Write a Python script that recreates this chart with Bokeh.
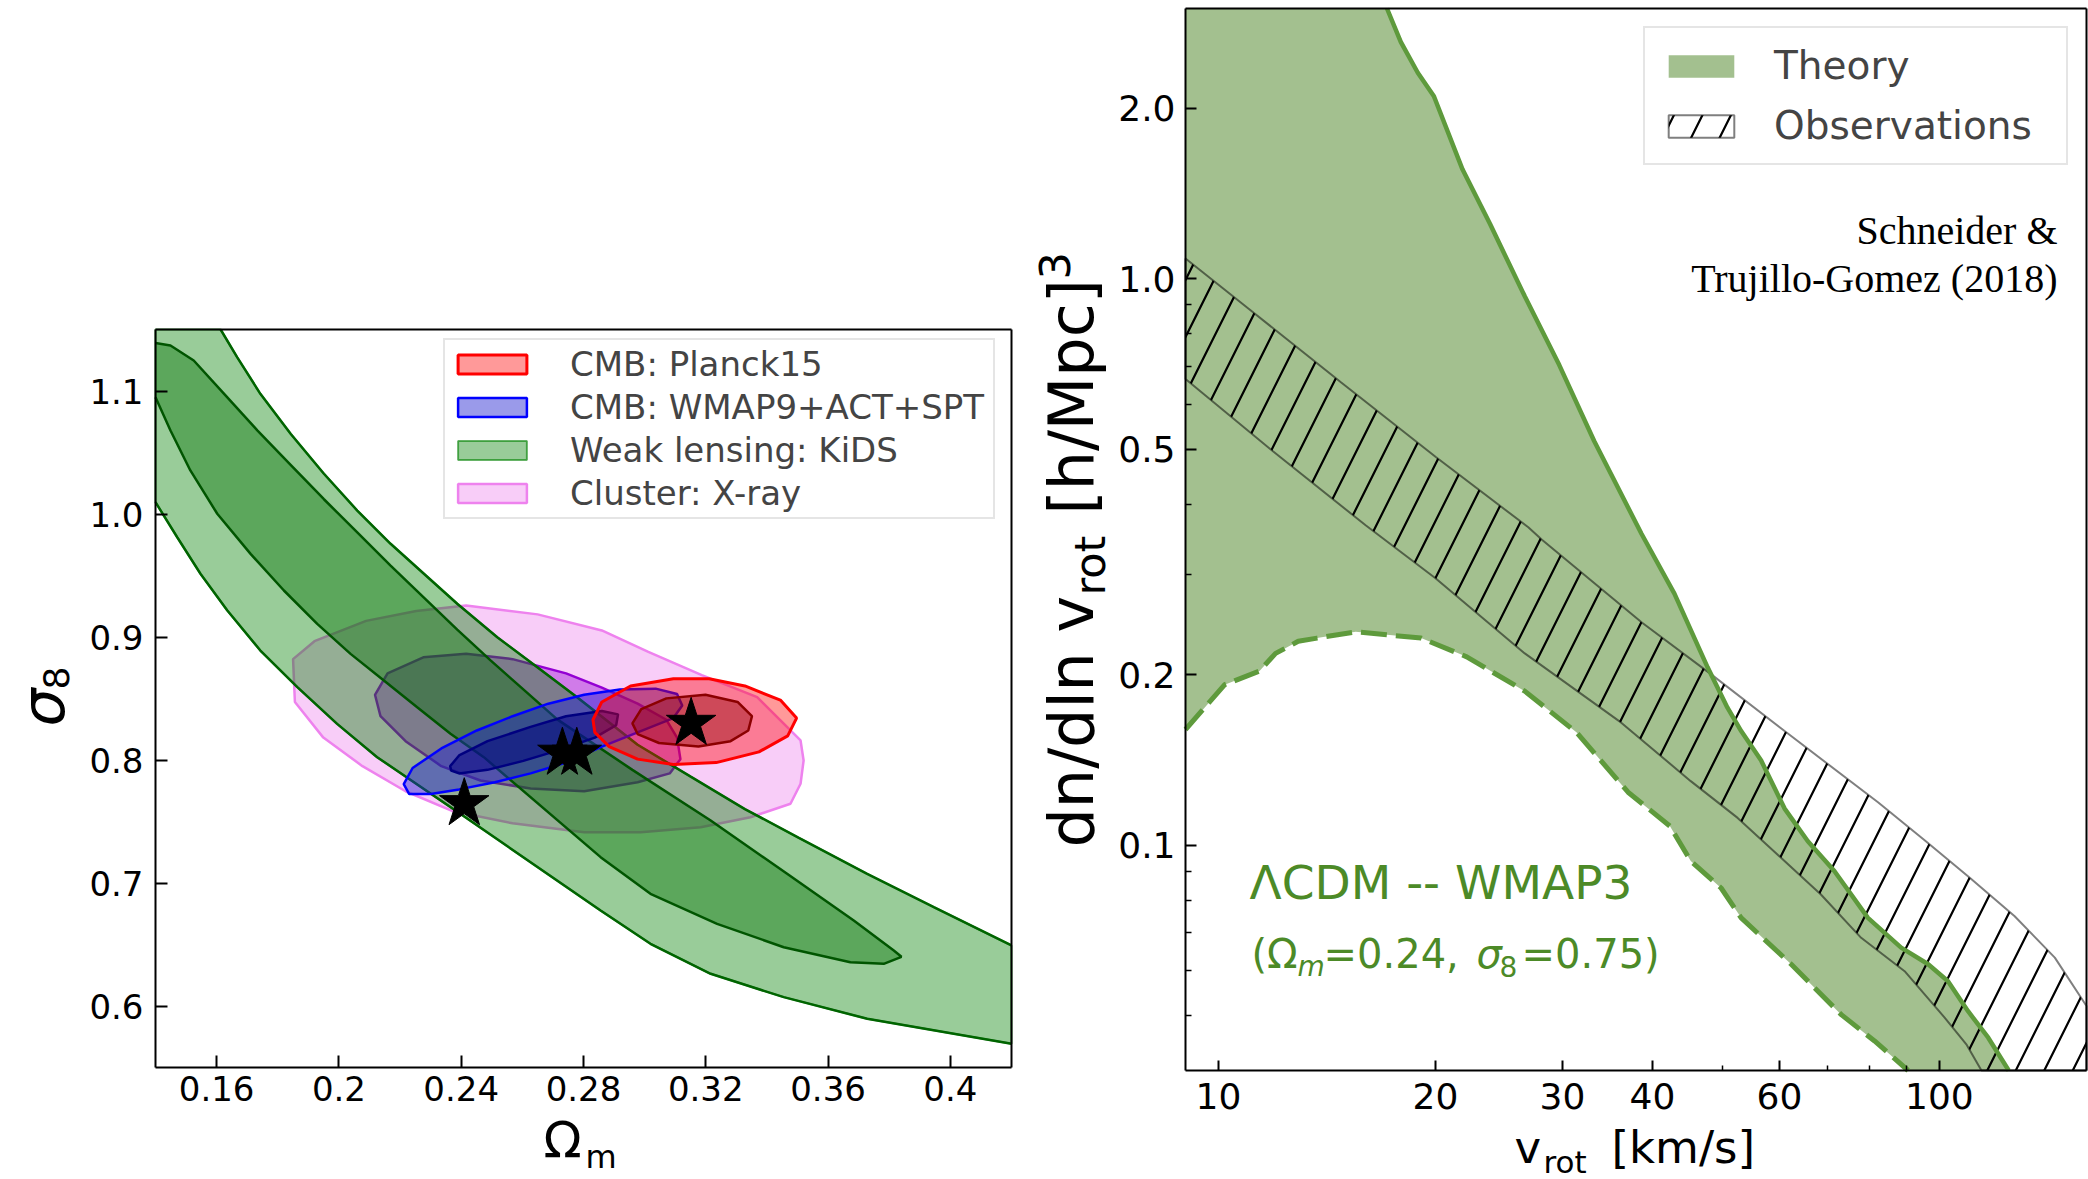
import math
from bokeh.plotting import figure
from bokeh.models import Range1d, FixedTicker, Label, Legend, LegendItem, LinearAxis, LogAxis
from bokeh.layouts import row
from bokeh.embed import file_html
from bokeh.resources import INLINE

# ---------------- Left panel data (Omega_m, sigma_8) ----------------
om_lim = (0.14, 0.42)
s8_lim = (0.55, 1.15)
om_ticks = [0.16, 0.2, 0.24, 0.28, 0.32, 0.36, 0.4]
om_tick_labels = ["0.16", "0.2", "0.24", "0.28", "0.32", "0.36", "0.4"]
s8_ticks = [0.6, 0.7, 0.8, 0.9, 1.0, 1.1]
s8_tick_labels = ["0.6", "0.7", "0.8", "0.9", "1.0", "1.1"]

planck_outer_om = [0.2831, 0.2860, 0.2954, 0.3094, 0.3211, 0.3328, 0.3444, 0.3497, 0.3468, 0.3374, 0.3234, 0.3094, 0.2977, 0.2884, 0.2837]
planck_outer_s8 = [0.8327, 0.8472, 0.8602, 0.8661, 0.8661, 0.8602, 0.8487, 0.8341, 0.8196, 0.8066, 0.7979, 0.7964, 0.8007, 0.8109, 0.8225]
planck_inner_om = [0.2960, 0.2989, 0.3071, 0.3199, 0.3304, 0.3351, 0.3339, 0.3281, 0.3176, 0.3047, 0.2977]
planck_inner_s8 = [0.8298, 0.8414, 0.8501, 0.8530, 0.8472, 0.8356, 0.8240, 0.8153, 0.8109, 0.8138, 0.8211]

wmap_outer_om = [0.2212, 0.2241, 0.2335, 0.2451, 0.2568, 0.2685, 0.2802, 0.2919, 0.3036, 0.3106, 0.3123, 0.3094, 0.2977, 0.2860, 0.2743, 0.2627, 0.2510, 0.2393, 0.2300, 0.2230]
wmap_outer_s8 = [0.7804, 0.7935, 0.8094, 0.8240, 0.8356, 0.8458, 0.8530, 0.8574, 0.8580, 0.8536, 0.8443, 0.8341, 0.8225, 0.8109, 0.7979, 0.7891, 0.7819, 0.7761, 0.7723, 0.7723]
wmap_inner_om = [0.2364, 0.2393, 0.2486, 0.2627, 0.2743, 0.2860, 0.2913, 0.2907, 0.2837, 0.2720, 0.2603, 0.2486, 0.2393, 0.2367]
wmap_inner_s8 = [0.7950, 0.8037, 0.8153, 0.8269, 0.8356, 0.8399, 0.8371, 0.8284, 0.8182, 0.8080, 0.7993, 0.7920, 0.7891, 0.7915]

xray_outer_om = [0.1850, 0.1920, 0.2089, 0.2253, 0.2416, 0.2650, 0.2860, 0.3012, 0.3187, 0.3368, 0.3510, 0.3520, 0.3510, 0.3477, 0.3346, 0.3183, 0.2987, 0.2802, 0.2568, 0.2370, 0.2218, 0.2077, 0.1949, 0.1856]
xray_outer_s8 = [0.8820, 0.8966, 0.9131, 0.9212, 0.9256, 0.9184, 0.9053, 0.8879, 0.8690, 0.8511, 0.8159, 0.7996, 0.7807, 0.7644, 0.7535, 0.7454, 0.7413, 0.7412, 0.7485, 0.7586, 0.7746, 0.7950, 0.8182, 0.8472]
xray_inner_om = [0.2118, 0.2159, 0.2276, 0.2416, 0.2568, 0.2743, 0.2860, 0.2977, 0.3071, 0.3106, 0.3117, 0.3082, 0.2977, 0.2802, 0.2627, 0.2463, 0.2335, 0.2218, 0.2136]
xray_inner_s8 = [0.8530, 0.8704, 0.8835, 0.8864, 0.8820, 0.8704, 0.8589, 0.8458, 0.8327, 0.8182, 0.8007, 0.7891, 0.7819, 0.7746, 0.7769, 0.7833, 0.7950, 0.8153, 0.8356]

# KiDS weak lensing banana: outer (2 sigma) upper / lower edges, inner (1 sigma) upper / lower edges
kids_outer_hi_om = [0.1613, 0.1667, 0.1743, 0.1842, 0.1951, 0.2060, 0.2169, 0.2278, 0.2387, 0.2518, 0.2649, 0.2779, 0.2977, 0.3152, 0.3328, 0.3503, 0.3728, 0.3946, 0.4200]
kids_outer_hi_s8 = [1.1500, 1.1275, 1.0977, 1.0652, 1.0327, 1.0028, 0.9758, 0.9514, 0.9270, 0.8998, 0.8755, 0.8511, 0.8124, 0.7863, 0.7601, 0.7369, 0.7075, 0.6803, 0.6492]
kids_outer_lo_om = [0.1400, 0.1471, 0.1547, 0.1635, 0.1743, 0.1864, 0.1994, 0.2125, 0.2410, 0.2856, 0.3019, 0.3216, 0.3455, 0.3728, 0.4200]
kids_outer_lo_s8 = [1.0096, 0.9811, 0.9514, 0.9215, 0.8890, 0.8592, 0.8294, 0.8023, 0.7540, 0.6776, 0.6506, 0.6262, 0.6072, 0.5896, 0.5693]
kids_inner_hi_om = [0.1400, 0.1449, 0.1525, 0.1623, 0.1733, 0.1842, 0.1951, 0.2060, 0.2169, 0.2278, 0.2387, 0.2496, 0.2605, 0.2714, 0.2960, 0.3216, 0.3466, 0.3684, 0.3815, 0.3840]
kids_inner_hi_s8 = [1.1390, 1.1370, 1.1248, 1.0981, 1.0680, 1.0400, 1.0120, 0.9850, 0.9580, 0.9320, 0.9060, 0.8810, 0.8570, 0.8330, 0.7920, 0.7508, 0.7075, 0.6695, 0.6451, 0.6400]
kids_inner_lo_om = [0.1400, 0.1449, 0.1514, 0.1602, 0.1711, 0.1820, 0.1929, 0.2038, 0.2147, 0.2256, 0.2365, 0.2474, 0.2856, 0.3019, 0.3237, 0.3455, 0.3673, 0.3782]
kids_inner_lo_s8 = [1.0950, 1.0679, 1.0354, 1.0002, 0.9676, 0.9378, 0.9107, 0.8863, 0.8646, 0.8429, 0.8213, 0.8023, 0.7210, 0.6912, 0.6668, 0.6478, 0.6356, 0.6343]

star_om = [0.3152, 0.2731, 0.2778, 0.2410]
star_s8 = [0.8298, 0.8055, 0.8055, 0.7645]

legend_left = ["CMB: Planck15", "CMB: WMAP9+ACT+SPT", "Weak lensing: KiDS", "Cluster: X-ray"]

# ---------------- Right panel data (v_rot, dn/dln v_rot) ----------------
v_lim = (9.0, 160.0)
n_lim = (0.04, 3.0)
v_ticks = [10, 20, 30, 40, 60, 100]
v_tick_labels = ["10", "20", "30", "40", "60", "100"]
v_minor = [50, 70, 80, 90]
n_ticks = [0.1, 0.2, 0.5, 1.0, 2.0]
n_tick_labels = ["0.1", "0.2", "0.5", "1.0", "2.0"]
n_minor = [0.05, 0.06, 0.07, 0.08, 0.09, 0.3, 0.4, 0.6, 0.7, 0.8, 0.9]

theory_hi_v = [17.13, 17.9, 18.9, 19.9, 21.8, 23.8, 26.6, 29.7, 33.2, 38.6, 42.9, 47.7, 50.8, 53.1, 56.6, 61.0, 65.7, 71.5, 79.6, 88.5, 96.5, 102.8, 109.6, 116.9, 124.8]
theory_hi_n = [3.0, 2.62, 2.31, 2.10, 1.56, 1.25, 0.931, 0.704, 0.517, 0.355, 0.278, 0.206, 0.175, 0.159, 0.141, 0.116, 0.1016, 0.090, 0.0744, 0.0659, 0.0616, 0.0575, 0.0509, 0.0457, 0.040]
theory_lo_v = [9.0, 10.2, 11.4, 12.0, 12.9, 13.7, 15.5, 19.1, 22.1, 26.6, 31.4, 37.0, 42.3, 45.2, 49.8, 53.1, 62.3, 73.1, 81.3, 90.5]
theory_lo_n = [0.160, 0.192, 0.203, 0.218, 0.229, 0.232, 0.238, 0.232, 0.215, 0.187, 0.158, 0.124, 0.108, 0.0937, 0.084, 0.0744, 0.0616, 0.0502, 0.0451, 0.040]
obs_hi_v = [9.0, 11.0, 14.8, 20.0, 26.9, 28.1, 38.7, 48.3, 61.0, 82.2, 95.4, 110.2, 127.2, 144.6, 160.0]
obs_hi_n = [1.086, 0.886, 0.656, 0.485, 0.364, 0.346, 0.247, 0.200, 0.159, 0.119, 0.102, 0.0876, 0.0749, 0.0633, 0.052]
obs_lo_v = [9.0, 11.9, 16.0, 20.0, 26.6, 36.2, 45.2, 52.5, 60.3, 68.5, 77.9, 89.5, 101.7, 109.0, 114.4]
obs_lo_n = [0.665, 0.496, 0.367, 0.296, 0.218, 0.1645, 0.1297, 0.1117, 0.095, 0.0818, 0.0686, 0.0599, 0.0496, 0.0445, 0.040]

legend_right = ["Theory", "Observations"]

FONT = "DejaVu Sans"
SERIF = "Liberation Serif"
H = 1179                      # canvas height
W1, W2 = 1025, 1063           # canvas widths of the two panels
# pixel box of each panel's axes inside its own canvas (left, right, top, bottom)
BOX1 = (155, 1011, 329, 1067)
BOX2 = (160, 1061, 8, 1070)

# Bokeh labels anchor "alphabetic" text at the middle of the font box; shift back to the real baseline
BASE_SHIFT = {FONT: 0.346, SERIF: 0.3375}


def lab(p, x, y, text, size, color="black", font=FONT, style="normal", rotated=False, align="left"):
    off = BASE_SHIFT[font] * size
    if rotated:
        x, angle = x - off, math.pi / 2
    else:
        y, angle = y + off, 0.0
    p.add_layout(Label(x=x, y=y, x_units="screen", y_units="screen", text=text,
                       text_font_size=f"{size}px", text_color=color, text_font=font,
                       text_font_style=style, angle=angle, text_align=align,
                       text_baseline="alphabetic"))


def make_axis(cls, fixed, bounds, ticks, minor, overrides, label_size, standoff, tick_in, minor_in):
    ax = cls(fixed_location=fixed, bounds=bounds, ticker=FixedTicker(ticks=ticks, minor_ticks=minor))
    ax.axis_line_color = "black"
    ax.axis_line_width = 2
    ax.major_tick_in = tick_in
    ax.major_tick_out = 0
    ax.minor_tick_in = minor_in
    ax.minor_tick_out = 0
    ax.major_tick_line_width = 2
    ax.minor_tick_line_width = 1.5
    ax.major_tick_line_color = "black"
    ax.minor_tick_line_color = "black"
    ax.major_label_text_font = FONT
    ax.major_label_text_font_size = f"{label_size}px"
    ax.major_label_text_color = "black"
    ax.major_label_standoff = standoff
    if overrides:
        ax.major_label_overrides = overrides
    return ax


def base_fig(w, x_range, y_range, x_type, y_type):
    p = figure(width=w, height=H, x_range=x_range, y_range=y_range,
               x_axis_type=x_type, y_axis_type=y_type, x_axis_location=None, y_axis_location=None,
               output_backend="svg", toolbar_location=None, title=None,
               min_border=0, min_border_left=0, min_border_right=0, min_border_top=0, min_border_bottom=0)
    p.grid.visible = False
    p.outline_line_color = None
    p.background_fill_color = "white"
    p.border_fill_color = "white"
    return p


# ======================= LEFT FIGURE =======================
kx1 = (om_lim[1] - om_lim[0]) / (BOX1[1] - BOX1[0])
ky1 = (s8_lim[1] - s8_lim[0]) / (BOX1[3] - BOX1[2])
p1 = base_fig(W1,
              Range1d(om_lim[0] - BOX1[0] * kx1, om_lim[1] + (W1 - BOX1[1]) * kx1),
              Range1d(s8_lim[0] - (H - BOX1[3]) * ky1, s8_lim[1] + BOX1[2] * ky1),
              "linear", "linear")

p1.add_layout(make_axis(LinearAxis, s8_lim[0], om_lim, om_ticks, [], dict(zip(om_ticks, om_tick_labels)), 34, 8, 12, 0), "below")
p1.add_layout(make_axis(LinearAxis, om_lim[0], s8_lim, s8_ticks, [], dict(zip(s8_ticks, s8_tick_labels)), 34, 12, 12, 0), "left")
p1.add_layout(make_axis(LinearAxis, s8_lim[1], om_lim, [], [], None, 1, 0, 0, 0), "above")
p1.add_layout(make_axis(LinearAxis, om_lim[1], s8_lim, [], [], None, 1, 0, 0, 0), "right")

# cluster X-ray
r_xray = p1.patch(xray_outer_om, xray_outer_s8, fill_color="#ee82ee", fill_alpha=0.4, line_color="#ee82ee", line_width=2.5)
p1.patch(xray_inner_om, xray_inner_s8, fill_color="#9400d3", fill_alpha=0.4, line_color="#9400d3", line_width=2.5)

# KiDS banana
outer_x = kids_outer_hi_om + kids_outer_lo_om[::-1] + [om_lim[0]]
outer_y = kids_outer_hi_s8 + kids_outer_lo_s8[::-1] + [s8_lim[1]]
r_kids = p1.patch(outer_x, outer_y, fill_color="#008000", fill_alpha=0.4,
                  line_color="#008000", line_alpha=0.6, line_width=2)
inner_x = kids_inner_hi_om + kids_inner_lo_om[::-1]
inner_y = kids_inner_hi_s8 + kids_inner_lo_s8[::-1]
p1.patch(inner_x, inner_y, fill_color="#007000", fill_alpha=0.4, line_color=None)
p1.line(kids_outer_hi_om, kids_outer_hi_s8, line_color="#006400", line_width=2.5)
p1.line(kids_outer_lo_om, kids_outer_lo_s8, line_color="#006400", line_width=2.5)
p1.line(inner_x, inner_y, line_color="#005500", line_width=2.5)

# WMAP
r_wmap = p1.patch(wmap_outer_om, wmap_outer_s8, fill_color="#2020d0", fill_alpha=0.45, line_color="#0000ff", line_width=2.5)
p1.patch(wmap_inner_om, wmap_inner_s8, fill_color="#000080", fill_alpha=0.5, line_color="#000080", line_width=2.5)

# Planck
r_planck = p1.patch(planck_outer_om, planck_outer_s8, fill_color="#ff0000", fill_alpha=0.4, line_color="#ff0000", line_width=3)
p1.patch(planck_inner_om, planck_inner_s8, fill_color="#8b0000", fill_alpha=0.4, line_color="#8b0000", line_width=2.5)

p1.scatter(star_om, star_s8, marker="star", size=52, fill_color="black", line_color="black")

leg1 = Legend(items=[LegendItem(label=n, renderers=[r]) for n, r in
                     zip(legend_left, [r_planck, r_wmap, r_kids, r_xray])],
              location=(443, 660), glyph_width=86, glyph_height=24,
              label_standoff=35, label_width=419, spacing=3, padding=4, margin=0,
              label_text_font=FONT, label_text_font_size="34px",
              border_line_color="#cccccc", border_line_width=2,
              background_fill_color="white", background_fill_alpha=0.8)
p1.add_layout(leg1)

# axis labels (canvas pixels, baseline, y measured from the bottom)
lab(p1, 543, 22, "Ω", 50)
lab(p1, 585, 11, "m", 32)
lab(p1, 63, 453, "σ", 60, style="italic", rotated=True)
lab(p1, 68, 490, "8", 36, rotated=True)

# ======================= RIGHT FIGURE =======================
lv0, lv1 = math.log10(v_lim[0]), math.log10(v_lim[1])
kx2 = (lv1 - lv0) / (BOX2[1] - BOX2[0])
ln0, ln1 = math.log10(n_lim[0]), math.log10(n_lim[1])
ky2 = (ln1 - ln0) / (BOX2[3] - BOX2[2])
p2 = base_fig(W2,
              Range1d(10 ** (lv0 - BOX2[0] * kx2), 10 ** (lv1 + (W2 - BOX2[1]) * kx2)),
              Range1d(10 ** (ln0 - (H - BOX2[3]) * ky2), 10 ** (ln1 + BOX2[2] * ky2)),
              "log", "log")

p2.add_layout(make_axis(LogAxis, n_lim[0], v_lim, v_ticks, v_minor, dict(zip(v_ticks, v_tick_labels)), 36, 12, 10, 5), "below")
p2.add_layout(make_axis(LogAxis, v_lim[0], n_lim, n_ticks, n_minor, dict(zip(n_ticks, n_tick_labels)), 36, 10, 11, 6), "left")
p2.add_layout(make_axis(LogAxis, n_lim[1], v_lim, [], [], None, 1, 0, 0, 0), "above")
p2.add_layout(make_axis(LogAxis, v_lim[1], n_lim, [], [], None, 1, 0, 0, 0), "right")

GREEN_LINE = "#5e9a3c"
GREEN_TEXT = "#4c8a27"

th_x = [v_lim[0]] + theory_hi_v + theory_lo_v[::-1]
th_y = [n_lim[1]] + theory_hi_n + theory_lo_n[::-1]
r_theory = p2.patch(th_x, th_y, fill_color="#a3c08f", fill_alpha=1.0, line_color=None)

ob_x = obs_hi_v + [v_lim[1]] + obs_lo_v[::-1]
ob_y = obs_hi_n + [n_lim[0]] + obs_lo_n[::-1]
r_obs = p2.patch(ob_x, ob_y, fill_color=None, fill_alpha=0.0, line_color="black", line_alpha=0.5, line_width=2,
                 hatch_pattern="/", hatch_color="black", hatch_weight=2.2, hatch_scale=57)

p2.line(theory_hi_v, theory_hi_n, line_color=GREEN_LINE, line_width=4.5)
p2.line(theory_lo_v, theory_lo_n, line_color=GREEN_LINE, line_width=5, line_dash="26 9")

leg2 = Legend(items=[LegendItem(label=legend_right[0], renderers=[r_theory]),
                     LegendItem(label=legend_right[1], renderers=[r_obs])],
              location=(618, 1014), glyph_width=82, glyph_height=28,
              label_standoff=32, label_width=277, spacing=15, padding=15, margin=0,
              label_text_font=FONT, label_text_font_size="39px",
              border_line_color="#cccccc", border_line_width=2,
              background_fill_color="white", background_fill_alpha=0.8)
p2.add_layout(leg2)

lab(p2, 1032, 936, "Schneider &", 40, font=SERIF, align="right")
lab(p2, 1032, 888, "Trujillo-Gomez (2018)", 40, font=SERIF, align="right")
lab(p2, 224, 281, "ΛCDM -- WMAP3", 47, color=GREEN_TEXT)
lab(p2, 226, 212, "(Ω", 40, color=GREEN_TEXT)
lab(p2, 272, 203, "m", 28, color=GREEN_TEXT, style="italic")
lab(p2, 298, 212, "=0.24,", 40, color=GREEN_TEXT)
lab(p2, 451, 212, "σ", 40, color=GREEN_TEXT, style="italic")
lab(p2, 474, 203, "8", 28, color=GREEN_TEXT)
lab(p2, 496, 212, "=0.75)", 40, color=GREEN_TEXT)

# x-axis label
lab(p2, 489, 16, "v", 45)
lab(p2, 518, 7, "rot", 31)
lab(p2, 586, 16, "[km/s]", 45)
# y-axis label (rotated, reads bottom to top)
lab(p2, 67, 332, "dn/dln v", 62, rotated=True)
lab(p2, 79, 584, "rot", 43, rotated=True)
lab(p2, 67, 665, "[h/Mpc]", 62, rotated=True)
lab(p2, 44, 900, "3", 43, rotated=True)

layout = row(p1, p2)
open("out.html", "w").write(file_html(layout, INLINE))
